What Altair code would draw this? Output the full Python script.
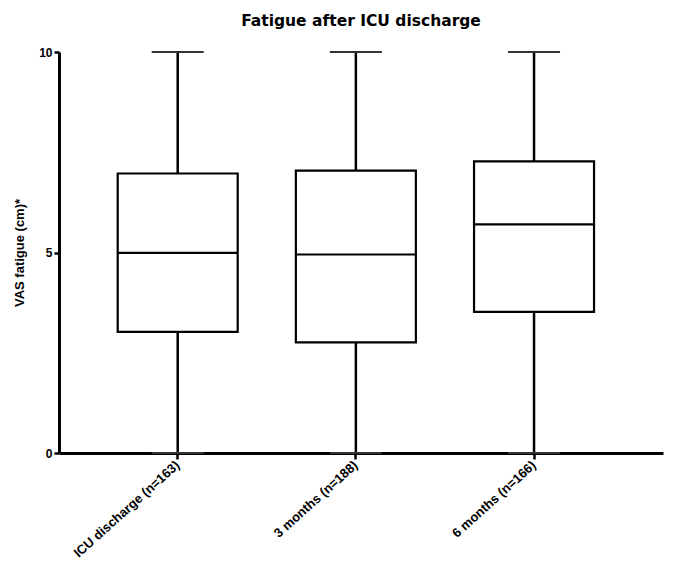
import altair as alt
import pandas as pd

categories = ["ICU discharge (n=163)", "3 months (n=188)", "6 months (n=166)"]
mins = [0, 0, 0]
q1 = [3.02, 2.76, 3.52]
medians = [4.99, 4.95, 5.70]
q3 = [6.97, 7.04, 7.27]
maxs = [10, 10, 10]

df = pd.DataFrame({"cat": categories, "min": mins, "q1": q1, "median": medians, "q3": q3, "max": maxs})

FONT = "Liberation Sans"
x_enc = alt.X("cat:N", sort=categories, title=None,
              scale=alt.Scale(paddingInner=0.33, paddingOuter=0.36, align=0.46),
              axis=alt.Axis(labelAngle=-42, labelAlign="right", labelBaseline="middle",
                            tickSize=6, labelPadding=4, labelFontSize=13))
y_scale = alt.Scale(domain=[0, 10], nice=False)

base = alt.Chart(df)

whisker = base.mark_rule(color="black", strokeWidth=2.5).encode(
    x=x_enc,
    y=alt.Y("min:Q", scale=y_scale, title="VAS fatigue (cm)*",
            axis=alt.Axis(values=[0, 5, 10], tickSize=5, labelPadding=2, titlePadding=12,
                          labelFontSize=12, titleFontSize=13)),
    y2="max:Q",
)
box = base.mark_bar(size=120, fill="white", stroke="black", strokeWidth=2.2).encode(
    x=x_enc, y=alt.Y("q1:Q", scale=y_scale), y2="q3:Q"
)
med = base.mark_tick(size=120, thickness=2.2, color="black", opacity=1).encode(
    x=x_enc, y=alt.Y("median:Q", scale=y_scale)
)
cap_top = base.mark_tick(size=52, thickness=2, color="#333333", opacity=1).encode(
    x=x_enc, y=alt.Y("max:Q", scale=y_scale)
)
cap_bot = base.mark_tick(size=52, thickness=2, color="#333333", opacity=1).encode(
    x=x_enc, y=alt.Y("min:Q", scale=y_scale)
)

chart = alt.layer(whisker, box, med, cap_top, cap_bot).properties(
    width=604, height=401,
    title=alt.TitleParams("Fatigue after ICU discharge", font="DejaVu Sans", fontSize=15.5,
                          fontWeight="bold", color="black", anchor="middle", offset=17),
    autosize=alt.AutoSizeParams(type="none"),
    padding={"left": 51, "top": 44, "right": 10, "bottom": 108},
).configure_view(stroke=None).configure_axis(
    grid=False, domainColor="black", domainWidth=3, tickColor="black", tickWidth=2.5,
    labelFont=FONT, labelFontWeight="bold", labelColor="black",
    titleFont=FONT, titleFontWeight="bold", titleColor="black",
)

chart.save("out.html", embed_options={"renderer": "svg", "actions": False})
